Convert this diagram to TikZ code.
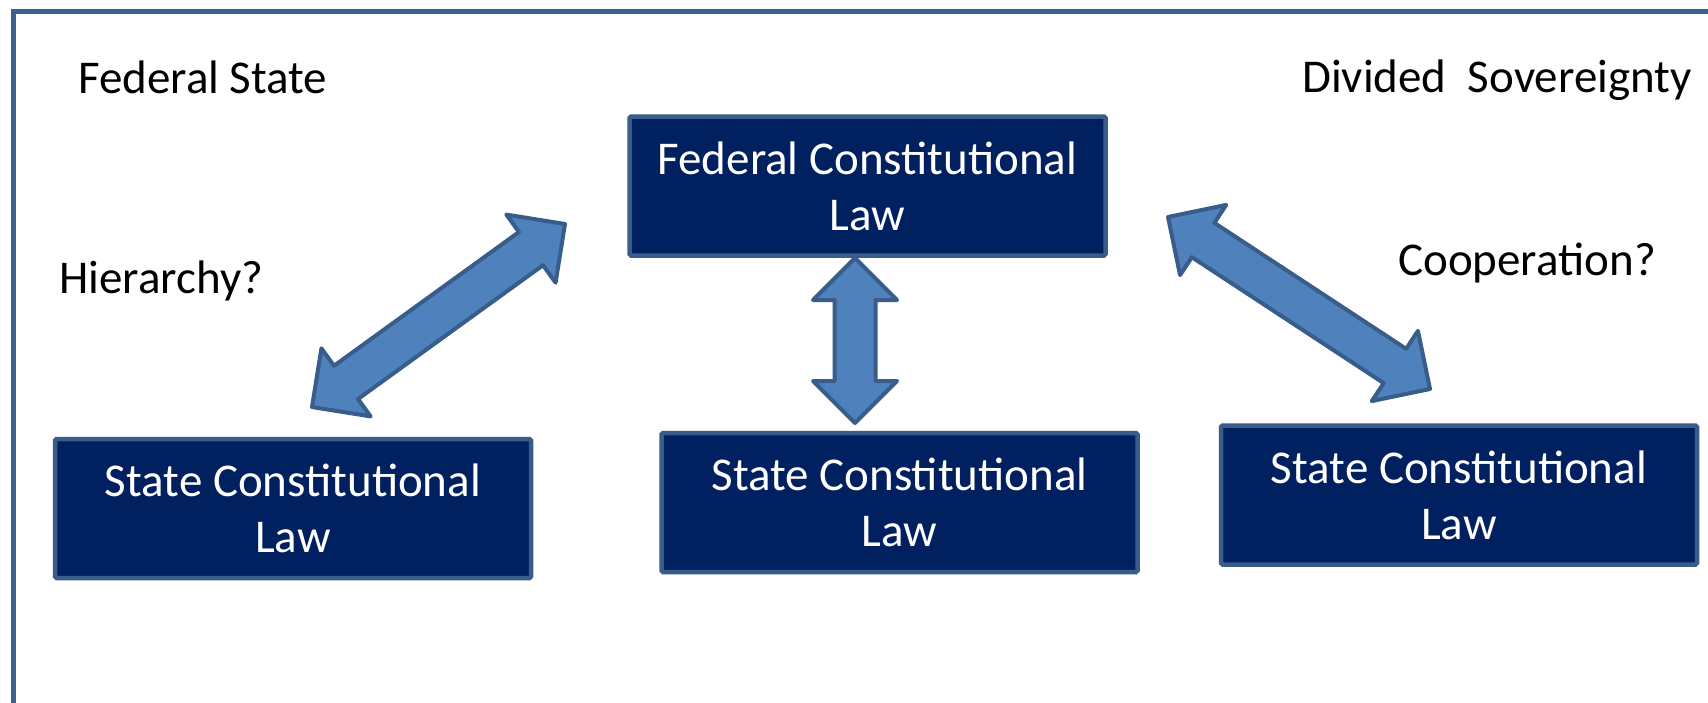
\documentclass[tikz,border=0pt]{standalone}
\usepackage{fontspec}
\setmainfont{Carlito}
\usetikzlibrary{calc}
\definecolor{framecol}{RGB}{60,96,142}
\definecolor{boxfill}{RGB}{0,32,96}
\definecolor{boxline}{RGB}{56,93,138}
\definecolor{arrfill}{RGB}{79,129,189}
\definecolor{arrline}{RGB}{56,93,138}
\def\arrHL{42pt}
\def\arrHW{42pt}
\def\arrSW{20.5pt}
\newcommand\fatarrow[2]{%
  \coordinate (#1-m) at ($(#1)!\arrHL!(#2)$);
  \coordinate (#2-m) at ($(#2)!\arrHL!(#1)$);
  \draw[fatarr] (#1) -- ($(#1-m)!\arrHW!90:(#2)$) -- ($(#1-m)!\arrSW!90:(#2)$)
    -- ($(#2-m)!\arrSW!-90:(#1)$) -- ($(#2-m)!\arrHW!-90:(#1)$) -- (#2)
    -- ($(#2-m)!\arrHW!90:(#1)$) -- ($(#2-m)!\arrSW!90:(#1)$)
    -- ($(#1-m)!\arrSW!-90:(#2)$) -- ($(#1-m)!\arrHW!-90:(#2)$) -- cycle;}
\tikzset{
  lawbox/.style={draw=boxline, line width=4.5pt, fill=boxfill, text=white,
    rounded corners=1.5pt, minimum width=476pt, minimum height=139pt,
    inner sep=0pt, align=center, font=\fontsize{47}{56}\selectfont},
  label/.style={anchor=base west, inner sep=0pt, font=\fontsize{47}{56}\selectfont},
  fatarr/.style={draw=arrline, fill=arrfill, line width=4pt, line join=round},
  frame/.style={draw=framecol, line width=5pt}
}
\begin{document}
\begin{tikzpicture}[x=1pt,y=-1pt]
\useasboundingbox (0,0) rectangle (1708,702);
\clip (0,0) rectangle (1708,702);
\fill[white] (0,0) rectangle (1708,702);
\draw[frame] (13.5,720) -- (13.5,11) -- (1730,11);

\node[label] (fs) at (78,93) {Federal State};
\node[label] (ds) at (1302,92) {Divided\ \ Sovereignty};
\node[label] (hi) at (59,293) {Hierarchy?};
\node[label] (co) at (1398,275) {Cooperation?};

\node[lawbox] (fed) at (867.5,186) {Federal Constitutional\\Law};
\node[lawbox] (s1) at (293,508.5) {State Constitutional\\Law};
\node[lawbox] (s2) at (899.5,502.5) {State Constitutional\\Law};
\node[lawbox] (s3) at (1459,495) {State Constitutional\\Law};

\coordinate (la1) at (312,407);
\coordinate (la2) at (565,224);
\coordinate (ma1) at (855,258);
\coordinate (ma2) at (855,423);
\coordinate (ra1) at (1168,217);
\coordinate (ra2) at (1430,389);
\fatarrow{la1}{la2}
\fatarrow{ma1}{ma2}
\fatarrow{ra1}{ra2}
\end{tikzpicture}
\end{document}
